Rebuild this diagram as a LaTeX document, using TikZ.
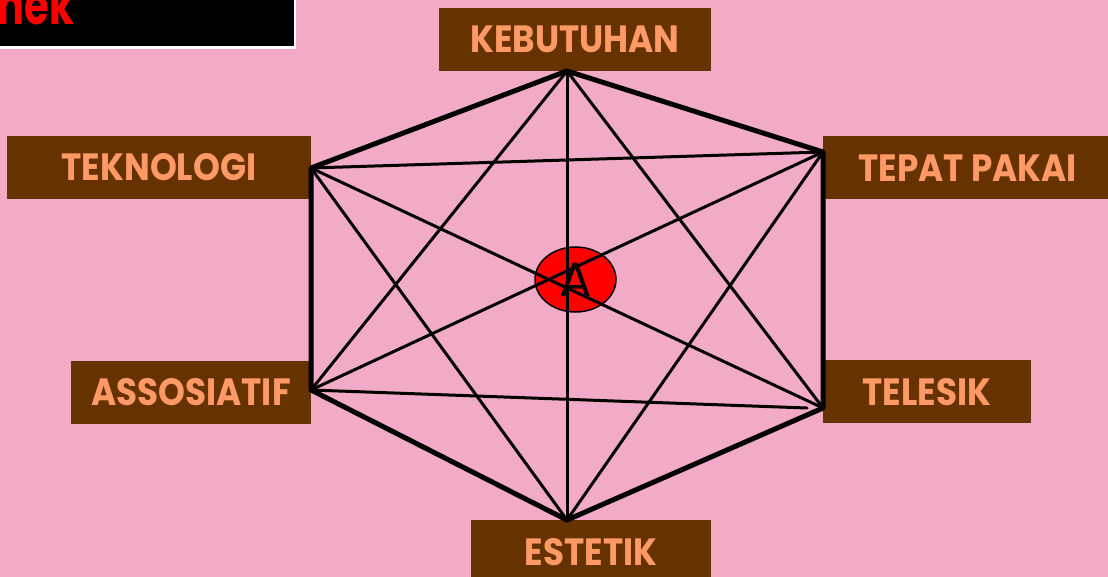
\documentclass[tikz,border=0pt]{standalone}
\usepackage{fontspec}
\usetikzlibrary{shapes.geometric}
\newfontfamily\labfont{Poppins}[FakeStretch=0.9]
\newfontfamily\hdfont{Poppins}
\definecolor{bgpink}{HTML}{F2ABC6}
\definecolor{brown}{HTML}{663300}
\definecolor{labtext}{HTML}{FF9966}
\tikzset{
  lab/.style={fill=brown, text=labtext, inner sep=0pt, minimum height=63pt,
    text height=27pt, text depth=0pt, font=\labfont\bfseries\fontsize{38}{40}\selectfont},
  hexedge/.style={line width=5pt, line join=round, line cap=round},
  chord/.style={line width=3pt, line cap=round},
}
\begin{document}
\begin{tikzpicture}[x=1pt,y=-1pt]
\useasboundingbox (0,0) rectangle (1108,577);
\clip (0,0) rectangle (1108,577);
\fill[bgpink] (0,0) rectangle (1108,577);
% header box
\fill[white] (0,-5) rectangle (296,49);
\fill[black] (0,-5) rectangle (293.5,46.5);
\node[anchor=base east, text=red, inner sep=0pt, font=\hdfont\bfseries\fontsize{40}{42}\selectfont] (hd) at (74,25) {\scalebox{1}[1.35]{nek}};
% labels
\node[lab, minimum width=272pt] (keb) at (575,39.5) {KEBUTUHAN};
\node[lab, minimum width=304pt] (tek) at (159,167.5) {TEKNOLOGI};
\node[lab, minimum width=289pt] (tep) at (967.5,168) {TEPAT PAKAI};
\node[lab, minimum width=240pt] (ass) at (191,392) {ASSOSIATIF};
\node[lab, minimum width=208pt] (tel) at (927,391.5) {TELESIK};
\node[lab, minimum width=240pt] (est) at (591,551.5) {ESTETIK};
% vertices
\coordinate (K) at (567,71);
\coordinate (TL) at (311,168);
\coordinate (TR) at (823,152);
\coordinate (BL) at (311,390);
\coordinate (BR) at (823,408);
\coordinate (B) at (567,520);
\coordinate (BRs) at (807,408);
% centre ellipse
\node[draw=black, line width=1.5pt, fill=red, ellipse, minimum width=81pt, minimum height=65pt, inner sep=0pt] (ctr) at (575.5,279.5) {};
% chords
\draw[chord] (K) -- (B);
\draw[chord] (TL) -- (TR);
\draw[chord] (BL) -- (BRs);
\draw[chord] (TL) -- (BR);
\draw[chord] (BL) -- (TR);
\draw[chord] (K) -- (BL);
\draw[chord] (K) -- (BR);
\draw[chord] (B) -- (TL);
\draw[chord] (B) -- (TR);
% hexagon
\draw[hexedge] (K) -- (TR) -- (BR) -- (B) -- (BL) -- (TL) -- cycle;
\node[inner sep=0pt, font=\hdfont\fontsize{48}{50}\selectfont] (A) at (ctr.center) {A};
\end{tikzpicture}
\end{document}
